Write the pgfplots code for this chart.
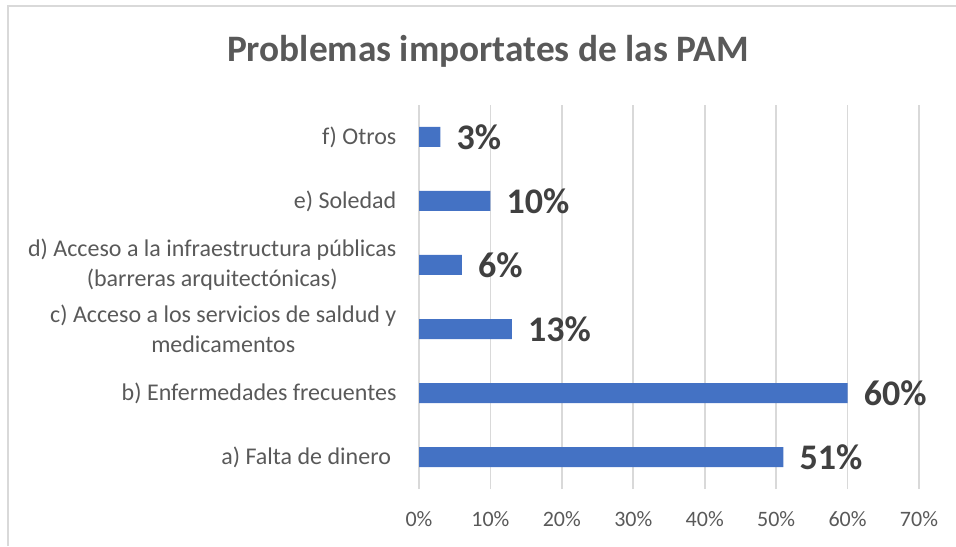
\documentclass[border=0pt]{standalone}
\usepackage{fontspec}
\setmainfont{Carlito}
\usepackage{pgfplots}
\pgfplotsset{compat=1.18}
\definecolor{barblue}{HTML}{4472C4}
\definecolor{gridgray}{HTML}{D9D9D9}
\definecolor{txtgray}{HTML}{595959}
\definecolor{lblgray}{HTML}{404040}
\begin{document}
\begin{tikzpicture}
\useasboundingbox (0,0) rectangle (717pt,409.5pt);
\draw[gridgray, line width=1.2pt] (6pt,0) -- (6pt,405pt) -- (717pt,405pt);
\node[anchor=base, font=\fontsize{28}{33}\selectfont\bfseries, text=txtgray] at (366pt,363pt) {Problemas importates de las PAM};
\begin{axis}[
  at={(314.25pt,42.75pt)}, anchor=south west,
  scale only axis,
  width=375pt, height=288pt,
  xbar, bar width=15pt,
  xmin=0, xmax=70,
  ymin=-0.5, ymax=5.5,
  xtick={0,10,...,70},
  xticklabels={0\%,10\%,20\%,30\%,40\%,50\%,60\%,70\%},
  ytick={0,1,2,3,4,5},
  yticklabels={{a) Falta de dinero\ },{b) Enfermedades frecuentes},{c) Acceso a los servicios de saldud y\ \\medicamentos},{d) Acceso a la infraestructura públicas\\(barreras arquitectónicas)},{e) Soledad},{f) Otros}},
  /pgf/number format/assume math mode=true,
  axis line style={draw=none},
  tick style={draw=none},
  xmajorgrids, ymajorgrids=false,
  major grid style={gridgray, line width=1.2pt},
  xticklabel style={font=\fontsize{16.5}{20}\selectfont, text=txtgray, inner sep=0pt, anchor=north, yshift=-16.5pt},
  yticklabel style={font=\fontsize{18}{22.5}\selectfont, text=txtgray, align=center, inner sep=0pt, anchor=east, xshift=-12.5pt},
  point meta=x,
  nodes near coords={\pgfmathprintnumber{\pgfplotspointmeta}\%},
  every node near coord/.append style={font=\fontsize{27}{32}\selectfont\bfseries, text=lblgray, anchor=west, inner xsep=0pt, xshift=12pt},
]
\addplot[fill=barblue, draw=none] coordinates {(51,0) (60,1) (13,2) (6,3) (10,4) (3,5)};
\end{axis}
\end{tikzpicture}
\end{document}
